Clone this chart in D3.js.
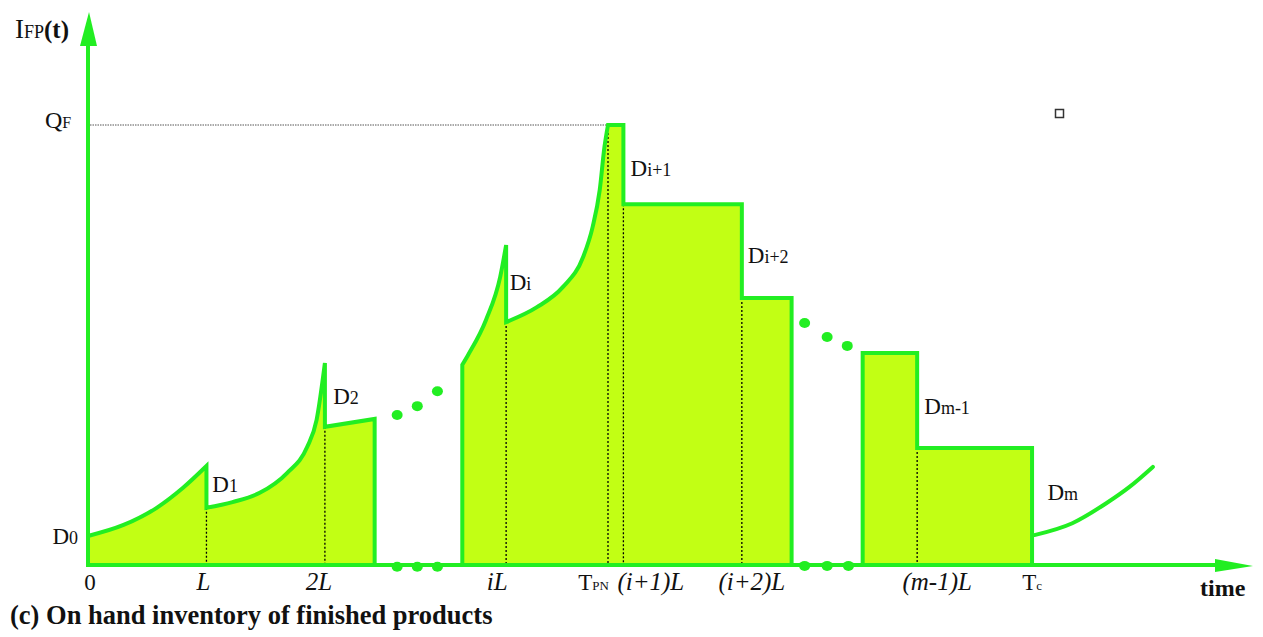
<!DOCTYPE html>
<html>
<head>
<meta charset="utf-8">
<script src="https://cdn.jsdelivr.net/npm/d3@7/dist/d3.min.js"></script>
<style>
  body { margin: 0; background: #fff; }
  svg { display: block; }
  text { font-family: "Liberation Serif", "Times New Roman", serif; fill: #111; }
</style>
</head>
<body>
<div id="chart"></div>
<script>
// time in units of L, inventory in % of QF
var block1 = [
  [[0, 6.6], [0.3, 9.1], [0.58, 13.0], [0.8, 17.5], [1, 22.5]],
  [[1, 13.0], [1.22, 14.3], [1.45, 16.4], [1.68, 20.9], [1.85, 26.8], [1.93, 33.0], [2, 45.9]],
  [[2, 31.4], [2.42, 33.2]]
];
var block2 = [
  [[3.16, 45.5], [3.21, 47.8], [3.36, 55.7], [3.48, 65.5], [3.53, 72.7]],
  [[3.53, 55.2], [3.79, 58.6], [4.01, 63.2], [4.18, 70.0], [4.26, 76.8], [4.32, 85.2], [4.36, 95.0], [4.39, 100]],
  [[4.39, 100], [4.52, 100]],
  [[4.52, 82.0], [5.52, 82.0]],
  [[5.52, 60.7], [5.94, 60.7]]
];
var block3 = [
  [[6.54, 48.2], [7.0, 48.2]],
  [[7.0, 26.6], [7.97, 26.6]]
];
var tailCurve = [[7.99, 6.8], [8.31, 9.5], [8.6, 14.1], [8.79, 17.7], [8.99, 22.3]];

// dotted guide lines: [time, top level]
var guides = [[1, 13.0], [2, 31.4], [3.53, 55.2], [4.39, 100], [4.52, 82.0], [5.52, 60.7], [7.0, 26.6], [7.97, 6.8]];

// "..." gap markers
var gapDots = [
  [2.61, 34.1], [2.78, 36.1], [2.95, 39.5],
  [2.61, -0.4], [2.78, -0.4], [2.95, -0.4],
  [6.05, 55.0], [6.24, 51.8], [6.41, 49.8],
  [6.05, -0.2], [6.24, -0.2], [6.42, -0.2]
];

// tick labels on the time axis
var tickValues = [0, 1, 2, 3.53, 4.39, 4.52, 5.52, 7.0, 7.97];
var tickMain   = ["0", "L", "2L", "iL", "T", "(i+1)L", "(i+2)L", "(m-1)L", "T"];
var tickSub    = ["", "", "", "", "PN", "", "", "", "c"];
var tickItalic = [false, true, true, true, false, true, true, true, false];
var tickAnchor = ["middle", "middle", "middle", "middle", "end", "start", "middle", "middle", "middle"];
var tickShift  = [2, -3, -6, -9, 1, -6, 10, 20, 0];

// demand labels
var demandSub = ["0", "1", "2", "i", "i+1", "i+2", "m-1", "m"];
var demandPos = [[-0.30, 4.8], [1.05, 16.6], [2.07, 36.6], [3.56, 62.5], [4.58, 88.4], [5.57, 68.6], [7.06, 34.3], [8.10, 14.8]];

var QF = 100, tMax = 9.81, TpN = 4.39;

var W = 1263, H = 637;
var green = "#22ee22", fill = "#c2ff14";

var svg = d3.select("#chart").append("svg")
  .attr("width", W)
  .attr("height", H);

var x = d3.scaleLinear().domain([0, tMax]).range([88, 1250]);
var y = d3.scaleLinear().domain([0, QF]).range([565, 125]);

var seg = d3.line()
  .x(function(d) { return x(d[0]); })
  .y(function(d) { return y(d[1]); })
  .curve(d3.curveMonotoneX);

// join the pieces of one block, vertical drops between them
function blockPath(pieces) {
  var p = "M" + x(pieces[0][0][0]) + "," + y(0);
  pieces.forEach(function(pc) {
    p += seg(pc).replace(/^M/, "L");
  });
  var last = pieces[pieces.length - 1];
  p += "L" + x(last[last.length - 1][0]) + "," + y(0) + "Z";
  return p;
}

var blocks = [block1, block2, block3];

svg.selectAll(".block")
  .data(blocks)
  .enter().append("path")
  .attr("class", "block")
  .attr("d", blockPath)
  .attr("fill", fill)
  .attr("stroke", "none");

// QF reference line
svg.append("line")
  .attr("x1", x(0) + 2).attr("x2", x(TpN))
  .attr("y1", y(QF)).attr("y2", y(QF))
  .attr("stroke", "#555")
  .attr("stroke-width", 1)
  .attr("stroke-dasharray", "1.5,1");

svg.selectAll(".guide")
  .data(guides)
  .enter().append("line")
  .attr("class", "guide")
  .attr("x1", function(d) { return x(d[0]); })
  .attr("x2", function(d) { return x(d[0]); })
  .attr("y1", function(d) { return y(d[1]); })
  .attr("y2", y(0))
  .attr("stroke", "#000")
  .attr("stroke-width", 1.3)
  .attr("stroke-dasharray", "2,2");

svg.selectAll(".outline")
  .data(blocks)
  .enter().append("path")
  .attr("class", "outline")
  .attr("d", blockPath)
  .attr("fill", "none")
  .attr("stroke", green)
  .attr("stroke-width", 4);

svg.append("path")
  .attr("d", seg(tailCurve))
  .attr("fill", "none")
  .attr("stroke", green)
  .attr("stroke-width", 4)
  .attr("stroke-linecap", "round");

svg.selectAll(".gap")
  .data(gapDots)
  .enter().append("ellipse")
  .attr("class", "gap")
  .attr("cx", function(d) { return x(d[0]); })
  .attr("cy", function(d) { return y(d[1]); })
  .attr("rx", 5.5)
  .attr("ry", 5)
  .attr("fill", green);

// axes
svg.append("line")
  .attr("x1", x(0)).attr("x2", x(tMax) - 30)
  .attr("y1", y(0)).attr("y2", y(0))
  .attr("stroke", green).attr("stroke-width", 4);
svg.append("path")
  .attr("d", "M" + (x(tMax) - 35) + "," + (y(0) - 6) + "L" + (x(tMax) + 3) + "," + (y(0) + 1) + "L" + (x(tMax) - 35) + "," + (y(0) + 7) + "Z")
  .attr("fill", green);

var yTop = y(125.7);
svg.append("line")
  .attr("x1", x(0)).attr("x2", x(0))
  .attr("y1", y(0) + 2).attr("y2", yTop + 30)
  .attr("stroke", green).attr("stroke-width", 4);
svg.append("path")
  .attr("d", "M" + (x(0) - 8) + "," + (yTop + 34) + "L" + (x(0) + 1) + "," + yTop + "L" + (x(0) + 9) + "," + (yTop + 34) + "Z")
  .attr("fill", green);

// axis titles
var yt = svg.append("text").attr("x", 15).attr("y", 38);
yt.append("tspan").attr("font-size", 27).text("I");
yt.append("tspan").attr("font-size", 18).text("FP");
yt.append("tspan").attr("font-size", 25).attr("font-weight", "bold").text("(t)");

var qf = svg.append("text").attr("x", 45).attr("y", y(QF) + 3);
qf.append("tspan").attr("font-size", 24).text("Q");
qf.append("tspan").attr("font-size", 16).text("F");

svg.append("text")
  .attr("x", 1200).attr("y", 596)
  .attr("font-size", 24)
  .attr("font-weight", "bold")
  .text("time");

// tick labels
tickValues.forEach(function(v, i) {
  var t = svg.append("text")
    .attr("x", x(v) + tickShift[i])
    .attr("y", 590)
    .attr("text-anchor", tickAnchor[i])
    .attr("font-size", tickItalic[i] ? 25 : 23)
    .attr("font-style", tickItalic[i] ? "italic" : "normal");
  t.append("tspan").text(tickMain[i]);
  if (tickSub[i]) t.append("tspan").attr("font-size", 13).text(tickSub[i]);
});

// demand labels
demandSub.forEach(function(s, i) {
  var t = svg.append("text")
    .attr("x", x(demandPos[i][0]))
    .attr("y", y(demandPos[i][1]))
    .attr("font-size", 23);
  t.append("tspan").text("D");
  t.append("tspan").attr("font-size", 18).text(s);
});

// little stray square
svg.append("rect")
  .attr("x", 1055.5).attr("y", 109.5)
  .attr("width", 8).attr("height", 8)
  .attr("fill", "none")
  .attr("stroke", "#333")
  .attr("stroke-width", 1.5);

svg.append("text")
  .attr("x", 10).attr("y", 624)
  .attr("font-size", 26.5)
  .attr("font-weight", "bold")
  .text("(c) On hand inventory of finished products");
</script>
</body>
</html>
